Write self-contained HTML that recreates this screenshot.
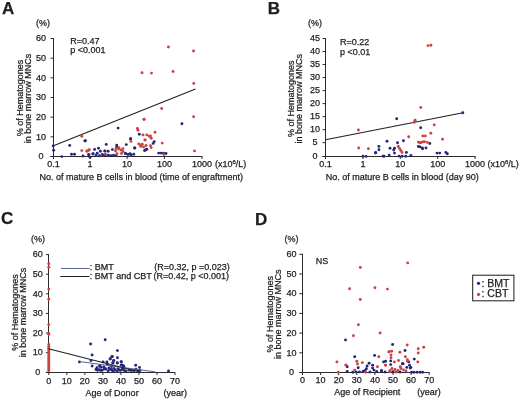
<!DOCTYPE html>
<html><head><meta charset="utf-8"><style>
html,body{margin:0;padding:0;background:#fff;}
body{width:520px;height:401px;overflow:hidden;}
svg{display:block;will-change:transform;filter:blur(0.35px);font-family:"Liberation Sans", sans-serif;}
text{fill:#1e1e1e;stroke:#1e1e1e;stroke-width:0.25px;}
</style></head><body>
<svg width="520" height="401" viewBox="0 0 520 401">
<text x="1.9" y="13.6" font-size="17" text-anchor="start" font-weight="bold" >A</text>
<text x="36" y="26" font-size="9" text-anchor="start" font-weight="normal" >(%)</text>
<line x1="53.5" y1="38.0" x2="53.5" y2="157.0" stroke="#2b2b2b" stroke-width="1"/>
<line x1="50.5" y1="156.5" x2="53.5" y2="156.5" stroke="#2b2b2b" stroke-width="1"/>
<text x="41.1" y="159.2" font-size="9" text-anchor="middle" font-weight="normal" >0</text>
<line x1="50.5" y1="136.83333333333334" x2="53.5" y2="136.83333333333334" stroke="#2b2b2b" stroke-width="1"/>
<text x="41.1" y="139.53333333333333" font-size="9" text-anchor="middle" font-weight="normal" >10</text>
<line x1="50.5" y1="117.16666666666666" x2="53.5" y2="117.16666666666666" stroke="#2b2b2b" stroke-width="1"/>
<text x="41.1" y="119.86666666666666" font-size="9" text-anchor="middle" font-weight="normal" >20</text>
<line x1="50.5" y1="97.5" x2="53.5" y2="97.5" stroke="#2b2b2b" stroke-width="1"/>
<text x="41.1" y="100.2" font-size="9" text-anchor="middle" font-weight="normal" >30</text>
<line x1="50.5" y1="77.83333333333333" x2="53.5" y2="77.83333333333333" stroke="#2b2b2b" stroke-width="1"/>
<text x="41.1" y="80.53333333333333" font-size="9" text-anchor="middle" font-weight="normal" >40</text>
<line x1="50.5" y1="58.16666666666666" x2="53.5" y2="58.16666666666666" stroke="#2b2b2b" stroke-width="1"/>
<text x="41.1" y="60.86666666666666" font-size="9" text-anchor="middle" font-weight="normal" >50</text>
<line x1="50.5" y1="38.5" x2="53.5" y2="38.5" stroke="#2b2b2b" stroke-width="1"/>
<text x="41.1" y="41.2" font-size="9" text-anchor="middle" font-weight="normal" >60</text>
<text transform="translate(23.0,98.0) rotate(-90)" font-size="9" text-anchor="middle">% of Hematogones</text>
<text transform="translate(31.2,98.6) rotate(-90)" font-size="9" text-anchor="middle">in bone marrow MNCs</text>
<line x1="50.5" y1="156.5" x2="202.5" y2="156.5" stroke="#2b2b2b" stroke-width="1"/>
<line x1="53.5" y1="156.5" x2="53.5" y2="159.0" stroke="#2b2b2b" stroke-width="1"/>
<text x="53.5" y="167.1" font-size="9" text-anchor="middle" font-weight="normal" >0.1</text>
<line x1="90.0" y1="156.5" x2="90.0" y2="159.0" stroke="#2b2b2b" stroke-width="1"/>
<text x="90.0" y="167.1" font-size="9" text-anchor="middle" font-weight="normal" >1</text>
<line x1="127.1" y1="156.5" x2="127.1" y2="159.0" stroke="#2b2b2b" stroke-width="1"/>
<text x="127.1" y="167.1" font-size="9" text-anchor="middle" font-weight="normal" >10</text>
<line x1="164.4" y1="156.5" x2="164.4" y2="159.0" stroke="#2b2b2b" stroke-width="1"/>
<text x="164.4" y="167.1" font-size="9" text-anchor="middle" font-weight="normal" >100</text>
<line x1="202.0" y1="156.5" x2="202.0" y2="159.0" stroke="#2b2b2b" stroke-width="1"/>
<text x="202.0" y="167.1" font-size="9" text-anchor="middle" font-weight="normal" >1000</text>
<text x="215" y="167.1" font-size="9" text-anchor="start" font-weight="normal" >(x10<tspan font-size='6' dy='-3.5'>6</tspan><tspan dy='3.5'>/L)</tspan></text>
<text x="39.5" y="180.3" font-size="9" text-anchor="start" font-weight="normal" >No. of mature B cells in blood (time of engraftment)</text>
<text x="70.2" y="43.8" font-size="9" text-anchor="start" font-weight="normal" >R=0.47</text>
<text x="70.2" y="53.1" font-size="9" text-anchor="start" font-weight="normal" >p &lt;0.001</text>
<line x1="53.5" y1="145.8" x2="195.5" y2="89.1" stroke="#1f1f1f" stroke-width="1.05"/>
<text x="267.8" y="13.6" font-size="17" text-anchor="start" font-weight="bold" >B</text>
<text x="308" y="26" font-size="9" text-anchor="start" font-weight="normal" >(%)</text>
<line x1="325.5" y1="38.0" x2="325.5" y2="157.0" stroke="#2b2b2b" stroke-width="1"/>
<line x1="322.5" y1="156.5" x2="325.5" y2="156.5" stroke="#2b2b2b" stroke-width="1"/>
<text x="314.9" y="159.2" font-size="9" text-anchor="middle" font-weight="normal" >0</text>
<line x1="322.5" y1="142.66" x2="325.5" y2="142.66" stroke="#2b2b2b" stroke-width="1"/>
<text x="314.9" y="145.35999999999999" font-size="9" text-anchor="middle" font-weight="normal" >5</text>
<line x1="322.5" y1="129.64" x2="325.5" y2="129.64" stroke="#2b2b2b" stroke-width="1"/>
<text x="314.9" y="132.33999999999997" font-size="9" text-anchor="middle" font-weight="normal" >10</text>
<line x1="322.5" y1="116.62" x2="325.5" y2="116.62" stroke="#2b2b2b" stroke-width="1"/>
<text x="314.9" y="119.32000000000001" font-size="9" text-anchor="middle" font-weight="normal" >15</text>
<line x1="322.5" y1="103.6" x2="325.5" y2="103.6" stroke="#2b2b2b" stroke-width="1"/>
<text x="314.9" y="106.3" font-size="9" text-anchor="middle" font-weight="normal" >20</text>
<line x1="322.5" y1="90.58" x2="325.5" y2="90.58" stroke="#2b2b2b" stroke-width="1"/>
<text x="314.9" y="93.28" font-size="9" text-anchor="middle" font-weight="normal" >25</text>
<line x1="322.5" y1="77.56" x2="325.5" y2="77.56" stroke="#2b2b2b" stroke-width="1"/>
<text x="314.9" y="80.26" font-size="9" text-anchor="middle" font-weight="normal" >30</text>
<line x1="322.5" y1="64.53999999999999" x2="325.5" y2="64.53999999999999" stroke="#2b2b2b" stroke-width="1"/>
<text x="314.9" y="67.24" font-size="9" text-anchor="middle" font-weight="normal" >35</text>
<line x1="322.5" y1="51.519999999999996" x2="325.5" y2="51.519999999999996" stroke="#2b2b2b" stroke-width="1"/>
<text x="314.9" y="54.22" font-size="9" text-anchor="middle" font-weight="normal" >40</text>
<line x1="322.5" y1="38.5" x2="325.5" y2="38.5" stroke="#2b2b2b" stroke-width="1"/>
<text x="314.9" y="41.2" font-size="9" text-anchor="middle" font-weight="normal" >45</text>
<text transform="translate(294.2,98.8) rotate(-90)" font-size="9" text-anchor="middle">% of Hematogones</text>
<text transform="translate(302.2,98.8) rotate(-90)" font-size="9" text-anchor="middle">in bone marrow MNCs</text>
<line x1="322.5" y1="156.5" x2="475.5" y2="156.5" stroke="#2b2b2b" stroke-width="1"/>
<line x1="325.5" y1="156.5" x2="325.5" y2="159.0" stroke="#2b2b2b" stroke-width="1"/>
<text x="325.5" y="167.1" font-size="9" text-anchor="middle" font-weight="normal" >0.1</text>
<line x1="362.9" y1="156.5" x2="362.9" y2="159.0" stroke="#2b2b2b" stroke-width="1"/>
<text x="362.9" y="167.1" font-size="9" text-anchor="middle" font-weight="normal" >1</text>
<line x1="400.3" y1="156.5" x2="400.3" y2="159.0" stroke="#2b2b2b" stroke-width="1"/>
<text x="400.3" y="167.1" font-size="9" text-anchor="middle" font-weight="normal" >10</text>
<line x1="437.7" y1="156.5" x2="437.7" y2="159.0" stroke="#2b2b2b" stroke-width="1"/>
<text x="437.7" y="167.1" font-size="9" text-anchor="middle" font-weight="normal" >100</text>
<line x1="475.1" y1="156.5" x2="475.1" y2="159.0" stroke="#2b2b2b" stroke-width="1"/>
<text x="475.1" y="167.1" font-size="9" text-anchor="middle" font-weight="normal" >1000</text>
<text x="487.5" y="167.1" font-size="9" text-anchor="start" font-weight="normal" >(x10<tspan font-size='6' dy='-3.5'>6</tspan><tspan dy='3.5'>/L)</tspan></text>
<text x="325.7" y="180.3" font-size="9" text-anchor="start" font-weight="normal" >No. of mature B cells in blood (day 90)</text>
<text x="340.0" y="45.3" font-size="9" text-anchor="start" font-weight="normal" >R=0.22</text>
<text x="340.0" y="54.5" font-size="9" text-anchor="start" font-weight="normal" >p &lt;0.01</text>
<line x1="325.5" y1="139.7" x2="463" y2="112.8" stroke="#1f1f1f" stroke-width="1.05"/>
<text x="1.0" y="224.2" font-size="17" text-anchor="start" font-weight="bold" >C</text>
<text x="31" y="242" font-size="9" text-anchor="start" font-weight="normal" >(%)</text>
<line x1="48.5" y1="254.0" x2="48.5" y2="373.0" stroke="#2b2b2b" stroke-width="1"/>
<line x1="45.9" y1="372.3" x2="48.5" y2="372.3" stroke="#2b2b2b" stroke-width="1"/>
<text x="37.8" y="375.0" font-size="9" text-anchor="middle" font-weight="normal" >0</text>
<line x1="45.9" y1="352.68333333333334" x2="48.5" y2="352.68333333333334" stroke="#2b2b2b" stroke-width="1"/>
<text x="37.8" y="355.3833333333333" font-size="9" text-anchor="middle" font-weight="normal" >10</text>
<line x1="45.9" y1="333.06666666666666" x2="48.5" y2="333.06666666666666" stroke="#2b2b2b" stroke-width="1"/>
<text x="37.8" y="335.76666666666665" font-size="9" text-anchor="middle" font-weight="normal" >20</text>
<line x1="45.9" y1="313.45" x2="48.5" y2="313.45" stroke="#2b2b2b" stroke-width="1"/>
<text x="37.8" y="316.15" font-size="9" text-anchor="middle" font-weight="normal" >30</text>
<line x1="45.9" y1="293.8333333333333" x2="48.5" y2="293.8333333333333" stroke="#2b2b2b" stroke-width="1"/>
<text x="37.8" y="296.5333333333333" font-size="9" text-anchor="middle" font-weight="normal" >40</text>
<line x1="45.9" y1="274.21666666666664" x2="48.5" y2="274.21666666666664" stroke="#2b2b2b" stroke-width="1"/>
<text x="37.8" y="276.91666666666663" font-size="9" text-anchor="middle" font-weight="normal" >50</text>
<line x1="45.9" y1="254.6" x2="48.5" y2="254.6" stroke="#2b2b2b" stroke-width="1"/>
<text x="37.8" y="257.3" font-size="9" text-anchor="middle" font-weight="normal" >60</text>
<text transform="translate(18.4,312.6) rotate(-90)" font-size="9" text-anchor="middle">% of Hematogones</text>
<text transform="translate(26.4,312.6) rotate(-90)" font-size="9" text-anchor="middle">in bone marrow MNCs</text>
<line x1="45.9" y1="372.5" x2="175.2" y2="372.5" stroke="#2b2b2b" stroke-width="1"/>
<line x1="48.8" y1="372.5" x2="48.8" y2="375.0" stroke="#2b2b2b" stroke-width="1"/>
<text x="48.8" y="383.5" font-size="9" text-anchor="middle" font-weight="normal" >0</text>
<line x1="66.83" y1="372.5" x2="66.83" y2="375.0" stroke="#2b2b2b" stroke-width="1"/>
<text x="66.83" y="383.5" font-size="9" text-anchor="middle" font-weight="normal" >10</text>
<line x1="84.86" y1="372.5" x2="84.86" y2="375.0" stroke="#2b2b2b" stroke-width="1"/>
<text x="84.86" y="383.5" font-size="9" text-anchor="middle" font-weight="normal" >20</text>
<line x1="102.89" y1="372.5" x2="102.89" y2="375.0" stroke="#2b2b2b" stroke-width="1"/>
<text x="102.89" y="383.5" font-size="9" text-anchor="middle" font-weight="normal" >30</text>
<line x1="120.92" y1="372.5" x2="120.92" y2="375.0" stroke="#2b2b2b" stroke-width="1"/>
<text x="120.92" y="383.5" font-size="9" text-anchor="middle" font-weight="normal" >40</text>
<line x1="138.95" y1="372.5" x2="138.95" y2="375.0" stroke="#2b2b2b" stroke-width="1"/>
<text x="138.95" y="383.5" font-size="9" text-anchor="middle" font-weight="normal" >50</text>
<line x1="156.98000000000002" y1="372.5" x2="156.98000000000002" y2="375.0" stroke="#2b2b2b" stroke-width="1"/>
<text x="156.98000000000002" y="383.5" font-size="9" text-anchor="middle" font-weight="normal" >60</text>
<line x1="175.01" y1="372.5" x2="175.01" y2="375.0" stroke="#2b2b2b" stroke-width="1"/>
<text x="175.01" y="383.5" font-size="9" text-anchor="middle" font-weight="normal" >70</text>
<text x="85.6" y="395.6" font-size="9" text-anchor="start" font-weight="normal" >Age of Donor</text>
<text x="163.6" y="395.6" font-size="9" text-anchor="start" font-weight="normal" >(year)</text>
<line x1="61" y1="268.5" x2="89.6" y2="268.5" stroke="#5a6290" stroke-width="1.0"/>
<line x1="60.2" y1="276.5" x2="89.6" y2="276.5" stroke="#262626" stroke-width="1.0"/>
<text x="89.8" y="270.3" font-size="9" text-anchor="start" font-weight="normal" >: BMT</text>
<text x="89.8" y="279.0" font-size="9" text-anchor="start" font-weight="normal" >: BMT and CBT</text>
<text x="154.2" y="270.3" font-size="9" text-anchor="start" font-weight="normal" >(R=0.32, p =0.023)</text>
<text x="153.4" y="279.0" font-size="9" text-anchor="start" font-weight="normal" >(R=0.42, p &lt;0.001)</text>
<text x="255.1" y="225.4" font-size="17" text-anchor="start" font-weight="bold" >D</text>
<text x="284.5" y="242" font-size="9" text-anchor="start" font-weight="normal" >(%)</text>
<line x1="302.5" y1="253.8" x2="302.5" y2="373.0" stroke="#2b2b2b" stroke-width="1"/>
<line x1="299.3" y1="372.5" x2="302.5" y2="372.5" stroke="#2b2b2b" stroke-width="1"/>
<text x="291.6" y="375.2" font-size="9" text-anchor="middle" font-weight="normal" >0</text>
<line x1="299.3" y1="352.8" x2="302.5" y2="352.8" stroke="#2b2b2b" stroke-width="1"/>
<text x="291.6" y="355.5" font-size="9" text-anchor="middle" font-weight="normal" >10</text>
<line x1="299.3" y1="333.1" x2="302.5" y2="333.1" stroke="#2b2b2b" stroke-width="1"/>
<text x="291.6" y="335.8" font-size="9" text-anchor="middle" font-weight="normal" >20</text>
<line x1="299.3" y1="313.4" x2="302.5" y2="313.4" stroke="#2b2b2b" stroke-width="1"/>
<text x="291.6" y="316.09999999999997" font-size="9" text-anchor="middle" font-weight="normal" >30</text>
<line x1="299.3" y1="293.7" x2="302.5" y2="293.7" stroke="#2b2b2b" stroke-width="1"/>
<text x="291.6" y="296.4" font-size="9" text-anchor="middle" font-weight="normal" >40</text>
<line x1="299.3" y1="274.0" x2="302.5" y2="274.0" stroke="#2b2b2b" stroke-width="1"/>
<text x="291.6" y="276.7" font-size="9" text-anchor="middle" font-weight="normal" >50</text>
<line x1="299.3" y1="254.3" x2="302.5" y2="254.3" stroke="#2b2b2b" stroke-width="1"/>
<text x="291.6" y="257.0" font-size="9" text-anchor="middle" font-weight="normal" >60</text>
<text transform="translate(272.6,314.3) rotate(-90)" font-size="9" text-anchor="middle">% of Hematogones</text>
<text transform="translate(281.0,314.3) rotate(-90)" font-size="9" text-anchor="middle">in bone marrow MNCs</text>
<line x1="299.3" y1="372.5" x2="429.5" y2="372.5" stroke="#2b2b2b" stroke-width="1"/>
<line x1="302.5" y1="372.5" x2="302.5" y2="375.0" stroke="#2b2b2b" stroke-width="1"/>
<text x="302.5" y="383.3" font-size="9" text-anchor="middle" font-weight="normal" >0</text>
<line x1="320.6" y1="372.5" x2="320.6" y2="375.0" stroke="#2b2b2b" stroke-width="1"/>
<text x="320.6" y="383.3" font-size="9" text-anchor="middle" font-weight="normal" >10</text>
<line x1="338.7" y1="372.5" x2="338.7" y2="375.0" stroke="#2b2b2b" stroke-width="1"/>
<text x="338.7" y="383.3" font-size="9" text-anchor="middle" font-weight="normal" >20</text>
<line x1="356.8" y1="372.5" x2="356.8" y2="375.0" stroke="#2b2b2b" stroke-width="1"/>
<text x="356.8" y="383.3" font-size="9" text-anchor="middle" font-weight="normal" >30</text>
<line x1="374.9" y1="372.5" x2="374.9" y2="375.0" stroke="#2b2b2b" stroke-width="1"/>
<text x="374.9" y="383.3" font-size="9" text-anchor="middle" font-weight="normal" >40</text>
<line x1="393.0" y1="372.5" x2="393.0" y2="375.0" stroke="#2b2b2b" stroke-width="1"/>
<text x="393.0" y="383.3" font-size="9" text-anchor="middle" font-weight="normal" >50</text>
<line x1="411.1" y1="372.5" x2="411.1" y2="375.0" stroke="#2b2b2b" stroke-width="1"/>
<text x="411.1" y="383.3" font-size="9" text-anchor="middle" font-weight="normal" >60</text>
<line x1="429.20000000000005" y1="372.5" x2="429.20000000000005" y2="375.0" stroke="#2b2b2b" stroke-width="1"/>
<text x="429.20000000000005" y="383.3" font-size="9" text-anchor="middle" font-weight="normal" >70</text>
<text x="334.2" y="395.3" font-size="9" text-anchor="start" font-weight="normal" >Age of Recipient</text>
<text x="417.2" y="395.3" font-size="9" text-anchor="start" font-weight="normal" >(year)</text>
<text x="315.8" y="263.8" font-size="9" text-anchor="start" font-weight="normal" >NS</text>
<rect x="472.7" y="275.2" width="41.2" height="25.6" fill="none" stroke="#1a1a1a" stroke-width="1"/>
<circle cx="478.5" cy="283.3" r="1.6" fill="#24257a"/>
<circle cx="478.5" cy="294.4" r="1.6" fill="#c94440"/>
<text x="481.5" y="286.5" font-size="10.5" text-anchor="start" font-weight="normal" >: BMT</text>
<text x="481.5" y="297.2" font-size="10.5" text-anchor="start" font-weight="normal" >: CBT</text>
<circle cx="53.6" cy="150.2" r="1.45" fill="#24257a"/>
<circle cx="53.2" cy="146" r="1.45" fill="#24257a"/>
<circle cx="69.7" cy="145.4" r="1.45" fill="#24257a"/>
<circle cx="84.8" cy="140.9" r="1.45" fill="#24257a"/>
<circle cx="71.5" cy="154.2" r="1.45" fill="#24257a"/>
<circle cx="74.5" cy="154.3" r="1.45" fill="#24257a"/>
<circle cx="61.8" cy="156.6" r="1.45" fill="#24257a"/>
<circle cx="83" cy="156" r="1.45" fill="#24257a"/>
<circle cx="88.8" cy="154.6" r="1.45" fill="#24257a"/>
<circle cx="90" cy="157.2" r="1.45" fill="#24257a"/>
<circle cx="92.8" cy="154" r="1.45" fill="#24257a"/>
<circle cx="94.6" cy="149.4" r="1.45" fill="#24257a"/>
<circle cx="97.2" cy="153.2" r="1.45" fill="#24257a"/>
<circle cx="98.5" cy="148.3" r="1.45" fill="#24257a"/>
<circle cx="100.4" cy="151.2" r="1.45" fill="#24257a"/>
<circle cx="104.7" cy="150.9" r="1.45" fill="#24257a"/>
<circle cx="106.2" cy="144.4" r="1.45" fill="#24257a"/>
<circle cx="108.1" cy="151.2" r="1.45" fill="#24257a"/>
<circle cx="103.8" cy="155.6" r="1.45" fill="#24257a"/>
<circle cx="108.4" cy="155.2" r="1.45" fill="#24257a"/>
<circle cx="112.4" cy="149.6" r="1.45" fill="#24257a"/>
<circle cx="85.5" cy="140.8" r="1.45" fill="#24257a"/>
<circle cx="126.3" cy="144.6" r="1.45" fill="#24257a"/>
<circle cx="130.7" cy="138.8" r="1.45" fill="#24257a"/>
<circle cx="116.7" cy="145.1" r="1.45" fill="#24257a"/>
<circle cx="93.2" cy="153.8" r="1.45" fill="#24257a"/>
<circle cx="88.8" cy="154.7" r="1.45" fill="#24257a"/>
<circle cx="102.3" cy="154.5" r="1.45" fill="#24257a"/>
<circle cx="105" cy="155.2" r="1.45" fill="#24257a"/>
<circle cx="111" cy="155.7" r="1.45" fill="#24257a"/>
<circle cx="125.4" cy="153.5" r="1.45" fill="#24257a"/>
<circle cx="128" cy="154.5" r="1.45" fill="#24257a"/>
<circle cx="131" cy="155" r="1.45" fill="#24257a"/>
<circle cx="133.7" cy="154.3" r="1.45" fill="#24257a"/>
<circle cx="134.5" cy="148" r="1.45" fill="#24257a"/>
<circle cx="118.1" cy="128.1" r="1.45" fill="#24257a"/>
<circle cx="139.3" cy="134.3" r="1.45" fill="#24257a"/>
<circle cx="130.5" cy="138.9" r="1.45" fill="#24257a"/>
<circle cx="134.9" cy="148" r="1.45" fill="#24257a"/>
<circle cx="146.8" cy="149.3" r="1.45" fill="#24257a"/>
<circle cx="145.5" cy="150.1" r="1.45" fill="#24257a"/>
<circle cx="116.8" cy="146.8" r="1.45" fill="#24257a"/>
<circle cx="105" cy="151.1" r="1.45" fill="#24257a"/>
<circle cx="125.6" cy="153.6" r="1.45" fill="#24257a"/>
<circle cx="130" cy="153.6" r="1.45" fill="#24257a"/>
<circle cx="181.9" cy="123.7" r="1.45" fill="#24257a"/>
<circle cx="154.2" cy="141.6" r="1.45" fill="#24257a"/>
<circle cx="153.2" cy="143.4" r="1.45" fill="#24257a"/>
<circle cx="146" cy="149.4" r="1.45" fill="#24257a"/>
<circle cx="144.5" cy="150.6" r="1.45" fill="#24257a"/>
<circle cx="158.7" cy="153.1" r="1.45" fill="#24257a"/>
<circle cx="161" cy="153.1" r="1.45" fill="#24257a"/>
<circle cx="163.5" cy="153.3" r="1.45" fill="#24257a"/>
<circle cx="166" cy="153.5" r="1.45" fill="#24257a"/>
<circle cx="96" cy="155.5" r="1.45" fill="#24257a"/>
<circle cx="99.5" cy="155.8" r="1.45" fill="#24257a"/>
<circle cx="113.5" cy="155.3" r="1.45" fill="#24257a"/>
<circle cx="116" cy="155.8" r="1.45" fill="#24257a"/>
<circle cx="81.8" cy="136.2" r="1.45" fill="#c94440"/>
<circle cx="81.8" cy="150.6" r="1.45" fill="#c94440"/>
<circle cx="87" cy="151.2" r="1.45" fill="#c94440"/>
<circle cx="88.8" cy="150.2" r="1.45" fill="#c94440"/>
<circle cx="86.9" cy="150.9" r="1.45" fill="#c94440"/>
<circle cx="89.3" cy="149.6" r="1.45" fill="#c94440"/>
<circle cx="105.5" cy="154" r="1.45" fill="#c94440"/>
<circle cx="130.9" cy="141.4" r="1.45" fill="#c94440"/>
<circle cx="116" cy="148.5" r="1.45" fill="#c94440"/>
<circle cx="118.5" cy="149" r="1.45" fill="#c94440"/>
<circle cx="121" cy="150" r="1.45" fill="#c94440"/>
<circle cx="123" cy="151.5" r="1.45" fill="#c94440"/>
<circle cx="115.5" cy="151" r="1.45" fill="#c94440"/>
<circle cx="117" cy="153.8" r="1.45" fill="#c94440"/>
<circle cx="121.5" cy="153.5" r="1.45" fill="#c94440"/>
<circle cx="119" cy="147.8" r="1.45" fill="#c94440"/>
<circle cx="123" cy="148.6" r="1.45" fill="#c94440"/>
<circle cx="143.9" cy="119.4" r="1.45" fill="#c94440"/>
<circle cx="137.4" cy="128.5" r="1.45" fill="#c94440"/>
<circle cx="138" cy="130.2" r="1.45" fill="#c94440"/>
<circle cx="143" cy="134.9" r="1.45" fill="#c94440"/>
<circle cx="146.8" cy="134.9" r="1.45" fill="#c94440"/>
<circle cx="149.3" cy="136.2" r="1.45" fill="#c94440"/>
<circle cx="144.9" cy="139.9" r="1.45" fill="#c94440"/>
<circle cx="138.7" cy="144" r="1.45" fill="#c94440"/>
<circle cx="141" cy="145" r="1.45" fill="#c94440"/>
<circle cx="143.6" cy="147" r="1.45" fill="#c94440"/>
<circle cx="146" cy="145.5" r="1.45" fill="#c94440"/>
<circle cx="161.7" cy="108.5" r="1.45" fill="#c94440"/>
<circle cx="144.2" cy="119.2" r="1.45" fill="#c94440"/>
<circle cx="193.6" cy="116.8" r="1.45" fill="#c94440"/>
<circle cx="155" cy="132.2" r="1.45" fill="#c94440"/>
<circle cx="150.5" cy="135.9" r="1.45" fill="#c94440"/>
<circle cx="151.2" cy="138.2" r="1.45" fill="#c94440"/>
<circle cx="145.2" cy="140.1" r="1.45" fill="#c94440"/>
<circle cx="162.2" cy="143.1" r="1.45" fill="#c94440"/>
<circle cx="142.2" cy="144.2" r="1.45" fill="#c94440"/>
<circle cx="140.7" cy="146.4" r="1.45" fill="#c94440"/>
<circle cx="150.5" cy="145.7" r="1.45" fill="#c94440"/>
<circle cx="151.2" cy="147.6" r="1.45" fill="#c94440"/>
<circle cx="194.6" cy="150.9" r="1.45" fill="#c94440"/>
<circle cx="164" cy="154.6" r="1.45" fill="#c94440"/>
<circle cx="168.4" cy="47" r="1.45" fill="#c94440"/>
<circle cx="193.5" cy="51" r="1.45" fill="#c94440"/>
<circle cx="142" cy="72.8" r="1.45" fill="#c94440"/>
<circle cx="151.5" cy="73.1" r="1.45" fill="#c94440"/>
<circle cx="173.1" cy="71.5" r="1.45" fill="#c94440"/>
<circle cx="193.8" cy="83.4" r="1.45" fill="#c94440"/>
<circle cx="363" cy="156.2" r="1.45" fill="#24257a"/>
<circle cx="366.1" cy="156.4" r="1.45" fill="#24257a"/>
<circle cx="378.9" cy="146.4" r="1.45" fill="#24257a"/>
<circle cx="378.9" cy="149.7" r="1.45" fill="#24257a"/>
<circle cx="375.5" cy="153" r="1.45" fill="#24257a"/>
<circle cx="383" cy="156.1" r="1.45" fill="#24257a"/>
<circle cx="396.7" cy="118.7" r="1.45" fill="#24257a"/>
<circle cx="420.7" cy="127.7" r="1.45" fill="#24257a"/>
<circle cx="387" cy="141.2" r="1.45" fill="#24257a"/>
<circle cx="403.4" cy="140.7" r="1.45" fill="#24257a"/>
<circle cx="397.5" cy="142.7" r="1.45" fill="#24257a"/>
<circle cx="390" cy="148.2" r="1.45" fill="#24257a"/>
<circle cx="394.5" cy="148.2" r="1.45" fill="#24257a"/>
<circle cx="393.7" cy="150.1" r="1.45" fill="#24257a"/>
<circle cx="418.4" cy="146.4" r="1.45" fill="#24257a"/>
<circle cx="422.2" cy="147.9" r="1.45" fill="#24257a"/>
<circle cx="406.4" cy="152.4" r="1.45" fill="#24257a"/>
<circle cx="375.7" cy="152.4" r="1.45" fill="#24257a"/>
<circle cx="394.5" cy="153.1" r="1.45" fill="#24257a"/>
<circle cx="384" cy="156.3" r="1.45" fill="#24257a"/>
<circle cx="389.2" cy="155.1" r="1.45" fill="#24257a"/>
<circle cx="399" cy="156.1" r="1.45" fill="#24257a"/>
<circle cx="402" cy="156.3" r="1.45" fill="#24257a"/>
<circle cx="405.7" cy="156.3" r="1.45" fill="#24257a"/>
<circle cx="410.9" cy="155.4" r="1.45" fill="#24257a"/>
<circle cx="462.8" cy="112.8" r="1.45" fill="#24257a"/>
<circle cx="429.8" cy="143.5" r="1.45" fill="#24257a"/>
<circle cx="419.8" cy="146.9" r="1.45" fill="#24257a"/>
<circle cx="422.6" cy="148.7" r="1.45" fill="#24257a"/>
<circle cx="426" cy="147.9" r="1.45" fill="#24257a"/>
<circle cx="437" cy="153.1" r="1.45" fill="#24257a"/>
<circle cx="439.7" cy="153.1" r="1.45" fill="#24257a"/>
<circle cx="445.9" cy="152.4" r="1.45" fill="#24257a"/>
<circle cx="447.3" cy="153.8" r="1.45" fill="#24257a"/>
<circle cx="358.4" cy="130" r="1.45" fill="#c94440"/>
<circle cx="358.7" cy="148" r="1.45" fill="#c94440"/>
<circle cx="368.4" cy="148.7" r="1.45" fill="#c94440"/>
<circle cx="420.8" cy="107.5" r="1.45" fill="#c94440"/>
<circle cx="415.1" cy="120.2" r="1.45" fill="#c94440"/>
<circle cx="414.2" cy="122.2" r="1.45" fill="#c94440"/>
<circle cx="408.7" cy="136.7" r="1.45" fill="#c94440"/>
<circle cx="422.9" cy="135.9" r="1.45" fill="#c94440"/>
<circle cx="419.9" cy="142.7" r="1.45" fill="#c94440"/>
<circle cx="422.9" cy="141.9" r="1.45" fill="#c94440"/>
<circle cx="398.2" cy="146.4" r="1.45" fill="#c94440"/>
<circle cx="399.5" cy="148.5" r="1.45" fill="#c94440"/>
<circle cx="400.8" cy="150.5" r="1.45" fill="#c94440"/>
<circle cx="402" cy="152.4" r="1.45" fill="#c94440"/>
<circle cx="434.2" cy="124.9" r="1.45" fill="#c94440"/>
<circle cx="430.8" cy="133.2" r="1.45" fill="#c94440"/>
<circle cx="425.3" cy="135.9" r="1.45" fill="#c94440"/>
<circle cx="442.5" cy="139.3" r="1.45" fill="#c94440"/>
<circle cx="418.4" cy="142.1" r="1.45" fill="#c94440"/>
<circle cx="421.2" cy="142.4" r="1.45" fill="#c94440"/>
<circle cx="424.6" cy="141.8" r="1.45" fill="#c94440"/>
<circle cx="427.4" cy="142.4" r="1.45" fill="#c94440"/>
<circle cx="428" cy="45.6" r="1.45" fill="#c94440"/>
<circle cx="430.9" cy="45.3" r="1.45" fill="#c94440"/>
<circle cx="105.2" cy="339.7" r="1.45" fill="#24257a"/>
<circle cx="90.6" cy="344" r="1.45" fill="#24257a"/>
<circle cx="117.4" cy="350.6" r="1.45" fill="#24257a"/>
<circle cx="92.1" cy="355" r="1.45" fill="#24257a"/>
<circle cx="79.4" cy="361.9" r="1.45" fill="#24257a"/>
<circle cx="92.2" cy="366" r="1.45" fill="#24257a"/>
<circle cx="91" cy="360.6" r="1.45" fill="#24257a"/>
<circle cx="111.9" cy="356.6" r="1.45" fill="#24257a"/>
<circle cx="110" cy="359" r="1.45" fill="#24257a"/>
<circle cx="117.5" cy="357.7" r="1.45" fill="#24257a"/>
<circle cx="113.7" cy="360.6" r="1.45" fill="#24257a"/>
<circle cx="121.2" cy="361.9" r="1.45" fill="#24257a"/>
<circle cx="103.1" cy="361.9" r="1.45" fill="#24257a"/>
<circle cx="106.9" cy="361.9" r="1.45" fill="#24257a"/>
<circle cx="100" cy="366.2" r="1.45" fill="#24257a"/>
<circle cx="103.8" cy="366.9" r="1.45" fill="#24257a"/>
<circle cx="113.1" cy="363.1" r="1.45" fill="#24257a"/>
<circle cx="112.3" cy="356.5" r="1.45" fill="#24257a"/>
<circle cx="110.4" cy="358.8" r="1.45" fill="#24257a"/>
<circle cx="113.8" cy="360.4" r="1.45" fill="#24257a"/>
<circle cx="112.7" cy="362.7" r="1.45" fill="#24257a"/>
<circle cx="117.3" cy="363.1" r="1.45" fill="#24257a"/>
<circle cx="99.6" cy="365.8" r="1.45" fill="#24257a"/>
<circle cx="107.3" cy="364.2" r="1.45" fill="#24257a"/>
<circle cx="121.9" cy="365" r="1.45" fill="#24257a"/>
<circle cx="123.8" cy="366.2" r="1.45" fill="#24257a"/>
<circle cx="111.5" cy="366.5" r="1.45" fill="#24257a"/>
<circle cx="121.3" cy="361.6" r="1.45" fill="#24257a"/>
<circle cx="117.3" cy="362.8" r="1.45" fill="#24257a"/>
<circle cx="123.1" cy="365.7" r="1.45" fill="#24257a"/>
<circle cx="121.1" cy="365.1" r="1.45" fill="#24257a"/>
<circle cx="135.7" cy="365.3" r="1.45" fill="#24257a"/>
<circle cx="139.5" cy="367.4" r="1.45" fill="#24257a"/>
<circle cx="168.5" cy="371" r="1.45" fill="#24257a"/>
<circle cx="96" cy="369.52352217960214" r="1.45" fill="#24257a"/>
<circle cx="97.5" cy="370.19730429565107" r="1.45" fill="#24257a"/>
<circle cx="99" cy="369.8139013664058" r="1.45" fill="#24257a"/>
<circle cx="100.5" cy="370.3286240849116" r="1.45" fill="#24257a"/>
<circle cx="102" cy="370.3765846690377" r="1.45" fill="#24257a"/>
<circle cx="104" cy="369.14416349032757" r="1.45" fill="#24257a"/>
<circle cx="106" cy="369.0289695814207" r="1.45" fill="#24257a"/>
<circle cx="108" cy="370.8424319806122" r="1.45" fill="#24257a"/>
<circle cx="110" cy="369.57057883152163" r="1.45" fill="#24257a"/>
<circle cx="111.5" cy="369.5155281143027" r="1.45" fill="#24257a"/>
<circle cx="113" cy="371.190418638123" r="1.45" fill="#24257a"/>
<circle cx="115" cy="370.0345797165494" r="1.45" fill="#24257a"/>
<circle cx="117" cy="370.84021519280367" r="1.45" fill="#24257a"/>
<circle cx="119" cy="370.04797705913853" r="1.45" fill="#24257a"/>
<circle cx="120.5" cy="370.40594990919715" r="1.45" fill="#24257a"/>
<circle cx="122" cy="369.33135613285174" r="1.45" fill="#24257a"/>
<circle cx="124" cy="370.3966934482274" r="1.45" fill="#24257a"/>
<circle cx="126" cy="370.9096996757152" r="1.45" fill="#24257a"/>
<circle cx="129" cy="370.1509986628433" r="1.45" fill="#24257a"/>
<circle cx="131.5" cy="370.63075408364324" r="1.45" fill="#24257a"/>
<circle cx="134" cy="370.4771052458131" r="1.45" fill="#24257a"/>
<circle cx="136" cy="369.1408691640994" r="1.45" fill="#24257a"/>
<circle cx="138" cy="370.668106541831" r="1.45" fill="#24257a"/>
<circle cx="140" cy="370.3004190824489" r="1.45" fill="#24257a"/>
<circle cx="97" cy="367.68202825522513" r="1.45" fill="#24257a"/>
<circle cx="101" cy="367.2496188023516" r="1.45" fill="#24257a"/>
<circle cx="105" cy="368.5848435791663" r="1.45" fill="#24257a"/>
<circle cx="109" cy="367.95639854186476" r="1.45" fill="#24257a"/>
<circle cx="114" cy="368.3501182785053" r="1.45" fill="#24257a"/>
<circle cx="118" cy="368.60610048040877" r="1.45" fill="#24257a"/>
<circle cx="123" cy="368.34260717377794" r="1.45" fill="#24257a"/>
<circle cx="48.8" cy="263.7" r="1.45" fill="#c94440"/>
<circle cx="48.8" cy="267.3" r="1.45" fill="#c94440"/>
<circle cx="48.8" cy="289.1" r="1.45" fill="#c94440"/>
<circle cx="48.8" cy="299.3" r="1.45" fill="#c94440"/>
<circle cx="48.8" cy="324.6" r="1.45" fill="#c94440"/>
<circle cx="48.8" cy="333.5" r="1.45" fill="#c94440"/>
<circle cx="48.8" cy="334.3" r="1.45" fill="#c94440"/>
<circle cx="48.8" cy="344.4" r="1.45" fill="#c94440"/>
<circle cx="48.8" cy="346.5" r="1.45" fill="#c94440"/>
<circle cx="48.8" cy="348.0" r="1.45" fill="#c94440"/>
<circle cx="48.8" cy="349.5" r="1.45" fill="#c94440"/>
<circle cx="48.8" cy="351.0" r="1.45" fill="#c94440"/>
<circle cx="48.8" cy="352.5" r="1.45" fill="#c94440"/>
<circle cx="48.8" cy="354.0" r="1.45" fill="#c94440"/>
<circle cx="48.8" cy="355.5" r="1.45" fill="#c94440"/>
<circle cx="48.8" cy="357.0" r="1.45" fill="#c94440"/>
<circle cx="48.8" cy="358.5" r="1.45" fill="#c94440"/>
<circle cx="48.8" cy="360.0" r="1.45" fill="#c94440"/>
<circle cx="48.8" cy="361.5" r="1.45" fill="#c94440"/>
<circle cx="48.8" cy="363.0" r="1.45" fill="#c94440"/>
<circle cx="48.8" cy="364.5" r="1.45" fill="#c94440"/>
<circle cx="48.8" cy="366.0" r="1.45" fill="#c94440"/>
<circle cx="48.8" cy="367.5" r="1.45" fill="#c94440"/>
<circle cx="48.8" cy="369.0" r="1.45" fill="#c94440"/>
<circle cx="48.8" cy="370.5" r="1.45" fill="#c94440"/>
<circle cx="345.5" cy="340" r="1.45" fill="#24257a"/>
<circle cx="354.7" cy="356.8" r="1.45" fill="#24257a"/>
<circle cx="374.6" cy="355.4" r="1.45" fill="#24257a"/>
<circle cx="369.1" cy="363.3" r="1.45" fill="#24257a"/>
<circle cx="347.2" cy="366.7" r="1.45" fill="#24257a"/>
<circle cx="358.2" cy="367.8" r="1.45" fill="#24257a"/>
<circle cx="367.1" cy="366" r="1.45" fill="#24257a"/>
<circle cx="372.6" cy="365.3" r="1.45" fill="#24257a"/>
<circle cx="383.6" cy="361.9" r="1.45" fill="#24257a"/>
<circle cx="385.6" cy="361.2" r="1.45" fill="#24257a"/>
<circle cx="366.4" cy="368.8" r="1.45" fill="#24257a"/>
<circle cx="365" cy="370.5" r="1.45" fill="#24257a"/>
<circle cx="363" cy="371.5" r="1.45" fill="#24257a"/>
<circle cx="372.6" cy="368.1" r="1.45" fill="#24257a"/>
<circle cx="374" cy="370.1" r="1.45" fill="#24257a"/>
<circle cx="376.7" cy="371.5" r="1.45" fill="#24257a"/>
<circle cx="381.5" cy="370.8" r="1.45" fill="#24257a"/>
<circle cx="347.2" cy="371.5" r="1.45" fill="#24257a"/>
<circle cx="352.7" cy="372.2" r="1.45" fill="#24257a"/>
<circle cx="356.1" cy="371.9" r="1.45" fill="#24257a"/>
<circle cx="359.5" cy="371.9" r="1.45" fill="#24257a"/>
<circle cx="392.6" cy="344.5" r="1.45" fill="#24257a"/>
<circle cx="405" cy="350.5" r="1.45" fill="#24257a"/>
<circle cx="414.3" cy="359.1" r="1.45" fill="#24257a"/>
<circle cx="390.7" cy="360.9" r="1.45" fill="#24257a"/>
<circle cx="408.8" cy="361.9" r="1.45" fill="#24257a"/>
<circle cx="390.7" cy="364.6" r="1.45" fill="#24257a"/>
<circle cx="403.1" cy="363.7" r="1.45" fill="#24257a"/>
<circle cx="409.5" cy="365.3" r="1.45" fill="#24257a"/>
<circle cx="410.9" cy="367.4" r="1.45" fill="#24257a"/>
<circle cx="406.8" cy="367.4" r="1.45" fill="#24257a"/>
<circle cx="410.2" cy="368.1" r="1.45" fill="#24257a"/>
<circle cx="411.6" cy="372.2" r="1.45" fill="#24257a"/>
<circle cx="414" cy="372.2" r="1.45" fill="#24257a"/>
<circle cx="417" cy="372.2" r="1.45" fill="#24257a"/>
<circle cx="420" cy="372.2" r="1.45" fill="#24257a"/>
<circle cx="422.6" cy="372.2" r="1.45" fill="#24257a"/>
<circle cx="381.4" cy="370.8" r="1.45" fill="#24257a"/>
<circle cx="402.3" cy="363.8" r="1.45" fill="#24257a"/>
<circle cx="370" cy="372" r="1.45" fill="#24257a"/>
<circle cx="385" cy="372" r="1.45" fill="#24257a"/>
<circle cx="393" cy="371.8" r="1.45" fill="#24257a"/>
<circle cx="400" cy="372" r="1.45" fill="#24257a"/>
<circle cx="360.3" cy="267.4" r="1.45" fill="#c94440"/>
<circle cx="407.7" cy="262.9" r="1.45" fill="#c94440"/>
<circle cx="349.6" cy="288.7" r="1.45" fill="#c94440"/>
<circle cx="374.9" cy="287.7" r="1.45" fill="#c94440"/>
<circle cx="387.4" cy="289.1" r="1.45" fill="#c94440"/>
<circle cx="360.3" cy="299.5" r="1.45" fill="#c94440"/>
<circle cx="358.4" cy="324.8" r="1.45" fill="#c94440"/>
<circle cx="380.1" cy="333" r="1.45" fill="#c94440"/>
<circle cx="353.4" cy="335.8" r="1.45" fill="#c94440"/>
<circle cx="378.8" cy="356.8" r="1.45" fill="#c94440"/>
<circle cx="388.8" cy="351.9" r="1.45" fill="#c94440"/>
<circle cx="336.9" cy="361.9" r="1.45" fill="#c94440"/>
<circle cx="356.8" cy="361.2" r="1.45" fill="#c94440"/>
<circle cx="362.3" cy="362.6" r="1.45" fill="#c94440"/>
<circle cx="357.5" cy="364" r="1.45" fill="#c94440"/>
<circle cx="345.8" cy="365.1" r="1.45" fill="#c94440"/>
<circle cx="377.4" cy="366.7" r="1.45" fill="#c94440"/>
<circle cx="385.6" cy="365.3" r="1.45" fill="#c94440"/>
<circle cx="365.7" cy="372.2" r="1.45" fill="#c94440"/>
<circle cx="338.2" cy="372.2" r="1.45" fill="#c94440"/>
<circle cx="354.7" cy="370.1" r="1.45" fill="#c94440"/>
<circle cx="389.8" cy="371.5" r="1.45" fill="#c94440"/>
<circle cx="407.2" cy="345" r="1.45" fill="#c94440"/>
<circle cx="423.7" cy="347.2" r="1.45" fill="#c94440"/>
<circle cx="418.2" cy="348.8" r="1.45" fill="#c94440"/>
<circle cx="389.3" cy="351.6" r="1.45" fill="#c94440"/>
<circle cx="391.7" cy="351.3" r="1.45" fill="#c94440"/>
<circle cx="399.9" cy="352.3" r="1.45" fill="#c94440"/>
<circle cx="418.2" cy="353" r="1.45" fill="#c94440"/>
<circle cx="391" cy="355" r="1.45" fill="#c94440"/>
<circle cx="405.4" cy="356.8" r="1.45" fill="#c94440"/>
<circle cx="391" cy="357.8" r="1.45" fill="#c94440"/>
<circle cx="398.5" cy="360.5" r="1.45" fill="#c94440"/>
<circle cx="394.4" cy="361.9" r="1.45" fill="#c94440"/>
<circle cx="407.5" cy="361.2" r="1.45" fill="#c94440"/>
<circle cx="417.8" cy="361.9" r="1.45" fill="#c94440"/>
<circle cx="385.5" cy="365.1" r="1.45" fill="#c94440"/>
<circle cx="400.3" cy="366.7" r="1.45" fill="#c94440"/>
<circle cx="346.1" cy="365.1" r="1.45" fill="#c94440"/>
<circle cx="407.4" cy="359.7" r="1.45" fill="#c94440"/>
<circle cx="392" cy="368.5" r="1.45" fill="#c94440"/>
<circle cx="395" cy="369.5" r="1.45" fill="#c94440"/>
<circle cx="398" cy="370.5" r="1.45" fill="#c94440"/>
<circle cx="401" cy="368.5" r="1.45" fill="#c94440"/>
<circle cx="403.5" cy="370" r="1.45" fill="#c94440"/>
<circle cx="406" cy="371" r="1.45" fill="#c94440"/>
<circle cx="396" cy="372" r="1.45" fill="#c94440"/>
<circle cx="390" cy="370.5" r="1.45" fill="#c94440"/>
<line x1="79.6" y1="361.6" x2="155" y2="371.8" stroke="#5a6290" stroke-width="1.0"/>
<line x1="48.5" y1="348.7" x2="141" y2="372.2" stroke="#1f1f1f" stroke-width="1.05"/>
</svg>
</body></html>
